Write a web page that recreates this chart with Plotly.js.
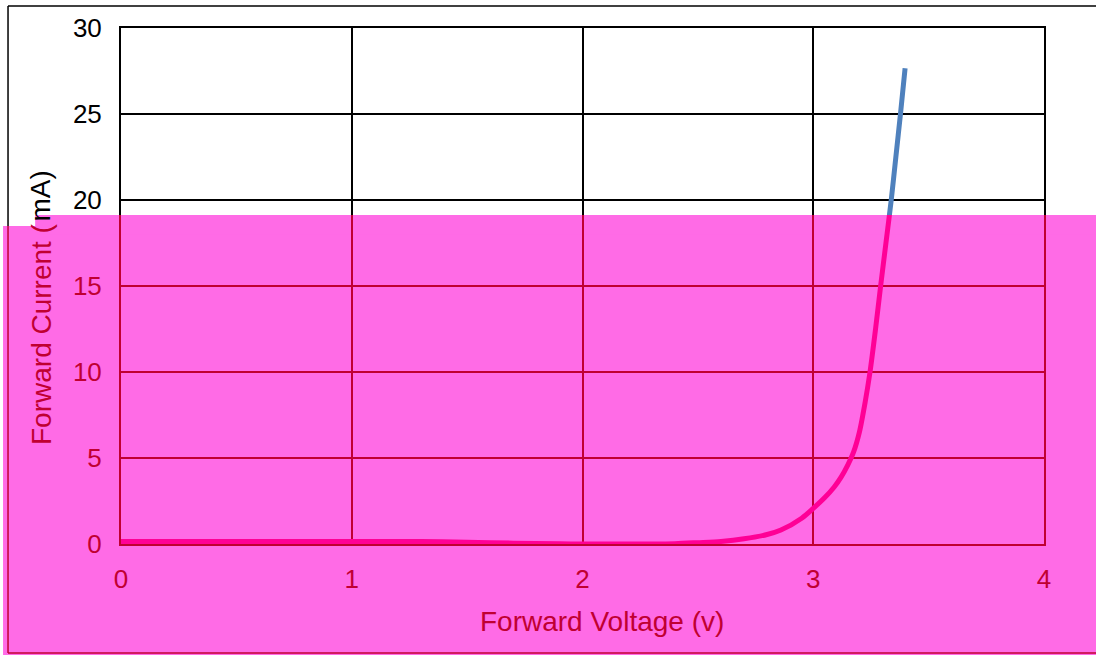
<!DOCTYPE html>
<html>
<head>
<meta charset="utf-8">
<script src="https://cdn.plot.ly/plotly-3.0.1.min.js"></script>
<style>html,body{margin:0;padding:0;background:#fff;}#chart{width:1096px;height:655px;}</style>
</head>
<body>
<div id="chart"></div>
<script>
// Forward voltage (V) vs forward current (mA)
var voltage = [0, 0.5, 1.0, 1.3, 1.5, 1.7, 1.9, 2.0, 2.2, 2.4, 2.5, 2.6, 2.7, 2.8, 2.86, 2.95, 3.0, 3.05, 3.09, 3.12, 3.15, 3.175, 3.2, 3.225, 3.246, 3.27, 3.292, 3.315, 3.338, 3.358, 3.378, 3.398];
var current = [0.15, 0.15, 0.15, 0.14, 0.1, 0.05, 0.01, 0, 0, 0.02, 0.08, 0.15, 0.3, 0.55, 0.81, 1.5, 2.07, 2.7, 3.3, 3.87, 4.6, 5.35, 6.5, 8.25, 10, 12.5, 15, 17.5, 20, 22.5, 25, 27.66];
var xTicks = [0, 1, 2, 3, 4];
var yTicksLower = [0, 5, 10, 15];
var yTicksUpper = [20, 25, 30];

var yMax = 30;
var split = 0.6376;           // fraction of plot height covered by the pink band
var yBoundary = yMax * split;

var DARK = '#C00032';
var PINK = '#FF6BE6';
var MAG = '#FF0096';
var BLUE = '#4F81BD';
var FONT = 'Liberation Sans, Arial, sans-serif';

var traces = [
  {x: voltage, y: current, xaxis: 'x', yaxis: 'y', mode: 'lines', line: {color: MAG, width: 5, shape: 'spline', smoothing: 0.8}, hoverinfo: 'skip'},
  {x: voltage, y: current, xaxis: 'x2', yaxis: 'y2', mode: 'lines', line: {color: BLUE, width: 5, shape: 'spline', smoothing: 0.8}, hoverinfo: 'skip'}
];

var layout = {
  width: 1096, height: 655,
  margin: {l: 121, r: 52, t: 28, b: 111},
  paper_bgcolor: '#ffffff',
  plot_bgcolor: 'rgba(0,0,0,0)',
  showlegend: false,
  font: {family: FONT, size: 26, color: '#000'},
  xaxis: {
    domain: [0, 1], range: [0, 4], anchor: 'y',
    tickvals: xTicks, ticktext: xTicks.map(String),
    showgrid: true, gridcolor: DARK, gridwidth: 2,
    zeroline: false, showline: true, linecolor: DARK, linewidth: 2,
    ticks: '', ticklabelstandoff: 11,
    tickfont: {family: FONT, size: 26, color: DARK}
  },
  yaxis: {
    domain: [0, split], range: [0, yBoundary], anchor: 'x',
    tickvals: yTicksLower, ticktext: yTicksLower.map(String),
    showgrid: true, gridcolor: DARK, gridwidth: 2,
    zeroline: false, showline: true, mirror: true, linecolor: DARK, linewidth: 2,
    ticks: '', ticklabelstandoff: 12,
    tickfont: {family: FONT, size: 26, color: DARK}
  },
  xaxis2: {
    domain: [0, 1], range: [0, 4], anchor: 'y2', matches: 'x', side: 'top',
    tickvals: xTicks, showticklabels: false,
    showgrid: true, gridcolor: '#000', gridwidth: 2,
    zeroline: false, showline: true, linecolor: '#000', linewidth: 2, ticks: ''
  },
  yaxis2: {
    domain: [split, 1], range: [yBoundary, yMax], anchor: 'x2',
    tickvals: yTicksUpper, ticktext: yTicksUpper.map(String),
    showgrid: true, gridcolor: '#000', gridwidth: 2,
    zeroline: false, showline: true, mirror: true, linecolor: '#000', linewidth: 2,
    ticks: '', ticklabelstandoff: 12,
    tickfont: {family: FONT, size: 26, color: '#000'}
  },
  shapes: [
    {type: 'rect', xref: 'paper', yref: 'paper', x0: -0.1278, x1: 1.1, y0: -0.3, y1: 0.6163, layer: 'below', line: {width: 0}, fillcolor: PINK},
    {type: 'rect', xref: 'paper', yref: 'paper', x0: -0.093, x1: 1.1, y0: 0.6, y1: split, layer: 'below', line: {width: 0}, fillcolor: PINK},
    // outer frame
    {type: 'line', xref: 'paper', yref: 'paper', x0: -0.1224, x1: 1.1, y0: 1.0426, y1: 1.0426, line: {color: '#000', width: 1.5}},
    {type: 'line', xref: 'paper', yref: 'paper', x0: -0.1224, x1: -0.1224, y0: 1.0426, y1: 0.6163, line: {color: '#000', width: 1.5}},
    {type: 'line', xref: 'paper', yref: 'paper', x0: -0.1224, x1: -0.1224, y0: 0.6163, y1: -0.2112, line: {color: DARK, width: 1.5}},
    {type: 'line', xref: 'paper', yref: 'paper', x0: -0.1224, x1: 1.1, y0: -0.2112, y1: -0.2112, line: {color: DARK, width: 1.5}}
  ],
  annotations: [
    {text: 'Forward Voltage (v)', xref: 'paper', yref: 'paper', x: 0.5206, y: -0.151, xanchor: 'center', yanchor: 'middle', showarrow: false, borderpad: 0, font: {family: FONT, size: 28, color: DARK}},
    {text: 'Forward Current (', xref: 'paper', yref: 'paper', x: -0.0867, y: 0.624, xanchor: 'center', yanchor: 'top', textangle: -90, showarrow: false, borderpad: 0, font: {family: FONT, size: 28, color: DARK}},
    {text: 'mA)', xref: 'paper', yref: 'paper', x: -0.0867, y: 0.624, xanchor: 'center', yanchor: 'bottom', textangle: -90, showarrow: false, borderpad: 0, font: {family: FONT, size: 28, color: '#000'}}
  ]
};

Plotly.newPlot('chart', traces, layout, {staticPlot: true, displayModeBar: false});
</script>
</body>
</html>
